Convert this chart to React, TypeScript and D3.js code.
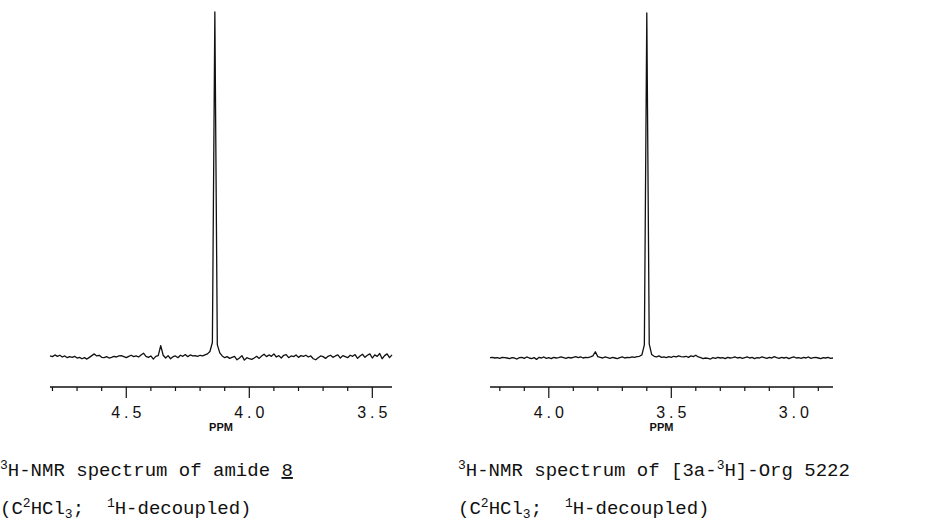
import * as d3 from "d3";

// spectrum 1: amide 8, sampled every 0.01 ppm from 4.81 down to 3.42
const amideStart = 4.81;
const amideStep = 0.01;
const amideIntensity = [
  0.3, 0.1, 0.6, 0.2, 0.5, 0.0, 0.3, -0.2, 0.1,
  -0.1, 0.2, -0.3, -0.1, -0.5, -0.2, -0.6, -0.1, 0.4, 0.9,
  0.3, 0.5, -0.1, -0.2, 0.1, -0.3, -0.1, 0.2, 0.0, 0.3,
  0.4, 0.1, -0.2, 0.2, 0.5, 0.1, 0.3, 0.0, 0.6, 1.1,
  0.2, -0.1, 0.3, -0.6, 0.2, 0.4, 3.3, 0.5, -0.3, 0.4,
  -0.5, 0.1, 0.3, -0.2, 0.5, 0.2, 0.7, 0.1, 0.6, 0.3,
  0.4, 0.2, 0.5, 0.3, 0.6, 0.9, 1.6, 4.2, 100, 3.6,
  1.2, 0.3, -0.2, 0.1, -0.4, -0.1, 0.2, -0.8, -0.3, 0.4,
  -0.9, -0.2, -0.5, -0.7, -0.3, 0.2, -0.4, 0.3, 0.8, 0.1,
  0.6, 0.2, 0.9, 0.0, 0.4, -0.3, 0.5, 0.7, -0.2, 0.3,
  0.1, 0.6, -0.1, 0.4, 0.2, 0.5, 0.0, 0.3, -0.5, -0.8,
  -0.2, 0.3, 0.1, -0.4, 0.2, 0.5, -0.1, 0.3, 0.6, -0.3,
  0.4, 0.1, -0.2, 0.5, 0.2, 0.7, -0.4, 0.3, 0.8, -0.1,
  0.5, 0.9, -0.3, 0.6, 0.2, 1.0, -0.5, 0.4, 0.9, -0.2,
  0.6,
];

// spectrum 2: [3a-3H]-Org 5222, sampled every 0.01 ppm from 4.24 down to 2.84
const orgStart = 4.24;
const orgStep = 0.01;
const orgIntensity = [
  0.1, 0.2, 0.0, 0.1, -0.1, 0.2, 0.1, 0.0, -0.2, 0.1,
  0.0, -0.3, 0.1, 0.2, -0.1, 0.3, 0.0, -0.2, 0.1, -0.4,
  0.2, 0.0, 0.3, -0.1, 0.1, -0.2, 0.2, 0.0, 0.1, 0.3,
  0.1, -0.1, 0.2, 0.0, 0.2, 0.4, 0.1, 0.3, 0.0, 0.2,
  0.1, 0.3, 0.6, 1.8, 0.4, 0.2, 0.0, 0.3, 0.1, -0.1,
  0.2, 0.0, -0.2, 0.1, 0.3, 0.0, 0.2, 0.1, 0.3, 0.2,
  0.4, 0.5, 0.9, 3.8, 100, 4.0, 1.0, 0.5, 0.3, 0.6,
  0.2, 0.3, 0.1, 0.4, 0.2, 0.5, 0.3, 0.6, 0.4, 0.3,
  0.5, 0.2, 0.6, 0.4, 0.8, 0.3, 0.1, -0.2, 0.0, -0.1,
  -0.3, 0.1, -0.1, 0.2, 0.0, 0.1, -0.2, 0.2, 0.0, 0.1,
  0.3, 0.0, 0.2, -0.1, 0.1, 0.3, 0.0, 0.2, -0.2, 0.1,
  0.0, 0.3, 0.1, -0.1, 0.2, 0.0, 0.4, 0.1, -0.1, 0.2,
  0.0, 0.2, -0.2, 0.1, 0.3, 0.0, 0.1, -0.1, 0.2, 0.0,
  0.3, -0.1, 0.1, 0.2, 0.0, -0.2, 0.1, 0.0, 0.2, -0.1,
  0.0,
];

const amideLabels = ["4.5", "4.0", "3.5"];
const orgLabels = ["4.0", "3.5", "3.0"];

const W = 941;
const H = 524;
const axisY = 387;
const monoFont = "'Liberation Mono', 'Courier New', monospace";
const tickFont = "'Liberation Sans', Arial, sans-serif";

type PanelProps = {
  start: number;
  step: number;
  values: number[];
  domain: [number, number];
  xRange: [number, number];
  baseY: number;
  topY: number;
  labels: string[];
};

const Spectrum = ({ start, step, values, domain, xRange, baseY, topY, labels }: PanelProps) => {
  const x = d3.scaleLinear().domain(domain).range(xRange);
  const y = d3.scaleLinear().domain([0, 100]).range([baseY, topY]);

  const pts = values.map((v, i) => [start - i * step, v] as [number, number]);
  const line = d3.line<[number, number]>()
    .x((d) => x(d[0]))
    .y((d) => y(d[1]));

  // tick every 0.1 ppm, long ones on the 0.5 marks
  const lo = Math.ceil(domain[1] * 10);
  const hi = Math.floor(domain[0] * 10);
  const ticks = d3.range(lo, hi + 1).map((t) => t / 10);

  return (
    <g>
      <path d={line(pts) ?? ""} fill="none" stroke="#111" strokeWidth={1.3} strokeLinejoin="round" />
      <line x1={xRange[0]} x2={xRange[1]} y1={axisY} y2={axisY} stroke="#111" strokeWidth={1.3} />
      {ticks.map((t) => {
        const major = Math.round(t * 10) % 5 === 0;
        return (
          <line key={t} x1={x(t)} x2={x(t)} y1={axisY} y2={axisY + (major ? 11 : 4)}
            stroke="#111" strokeWidth={1.2} />
        );
      })}
      {labels.map((l) => (
        <text key={l} x={x(+l) + 2} y={418} textAnchor="middle" fontFamily={tickFont}
          fontSize={16} letterSpacing={4} fill="#111">{l}</text>
      ))}
      <text x={(xRange[0] + xRange[1]) / 2} y={431} textAnchor="middle" fontFamily={tickFont}
        fontSize={11} fontWeight="bold" fill="#111">PPM</text>
    </g>
  );
};

const Caption = ({ x, compound }: { x: number; compound: "amide" | "org" }) => {
  const sup = { fontSize: 13 };
  return (
    <g fontFamily={monoFont} fontSize={19} fill="#111">
      {compound === "amide" ? (
        <text x={x} y={476}>
          <tspan {...sup} dy={-7}>3</tspan>
          <tspan dy={7}>H-NMR spectrum of amide </tspan>
          <tspan textDecoration="underline">8</tspan>
        </text>
      ) : (
        <text x={x} y={476}>
          <tspan {...sup} dy={-7}>3</tspan>
          <tspan dy={7}>H-NMR spectrum of [3a-</tspan>
          <tspan {...sup} dy={-7}>3</tspan>
          <tspan dy={7}>H]-Org 5222</tspan>
        </text>
      )}
      <text x={x} y={514} style={{ whiteSpace: "pre" }}>
        <tspan>(C</tspan>
        <tspan {...sup} dy={-7}>2</tspan>
        <tspan dy={7}>HCl</tspan>
        <tspan {...sup} dy={4}>3</tspan>
        <tspan dy={-4}>;  </tspan>
        <tspan {...sup} dy={-7}>1</tspan>
        <tspan dy={7}>H-decoupled)</tspan>
      </text>
    </g>
  );
};

export default function App() {
  return (
    <svg width={W} height={H} style={{ position: "absolute", left: 0, top: 0, background: "#fff" }}>
      <rect width={W} height={H} fill="#fff" />
      <Spectrum start={amideStart} step={amideStep} values={amideIntensity} domain={[4.81, 3.42]}
        xRange={[50, 392]} baseY={357} topY={12} labels={amideLabels} />
      <Spectrum start={orgStart} step={orgStep} values={orgIntensity} domain={[4.24, 2.84]}
        xRange={[490, 833]} baseY={358} topY={13} labels={orgLabels} />
      <Caption x={0} compound="amide" />
      <Caption x={458} compound="org" />
    </svg>
  );
}
